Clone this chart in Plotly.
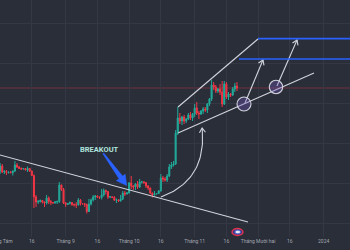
import numpy as np
import pandas as pd
import plotly.graph_objects as go

# ---------------- data ----------------
dates = pd.date_range("2023-07-28", "2023-11-21", freq="D")

open_ = [29400, 29300, 29400, 29300, 29200, 29700, 29100, 29150, 29050, 29080,
         29030, 29200, 29800, 29600, 29450, 29400, 29450, 29300, 29450, 29200,
         28750, 26600, 26100, 26150, 26250, 26100, 26000, 26500, 26150, 26050,
         26000, 26100, 26150, 27800, 27350, 26000, 25850, 25950, 26050, 25850,
         25820, 25800, 26300, 25950, 25920, 25850, 25150, 25900, 26300, 26600,
         26700, 26600, 26550, 26800, 27250, 27150, 26600, 26620, 26550, 26300,
         26320, 26200, 26400, 27000, 26900, 27000, 28000, 27700, 27600, 27900,
         27600, 28100, 28120, 28050, 27700, 27500, 27000, 26800, 26900, 26950,
         27200, 28500, 28400, 28300, 28700, 29600, 29800, 29900, 33000, 34500,
         34200, 34600, 34200, 34400, 34800, 34500, 34900, 35500, 35000, 34900,
         35200, 35400, 35300, 35900, 36400, 37800, 37600, 37200, 37400, 37100,
         35900, 37900, 36600, 36900, 36800, 37400, 37700]
high = [29600, 29500, 29500, 29500, 30000, 29900, 29300, 29300, 29150, 29180,
        29250, 30200, 30000, 29700, 29550, 29500, 29500, 29650, 29500, 29250,
        28850, 26800, 26300, 26350, 26300, 26150, 26800, 26650, 26300, 26100,
        26200, 26250, 28100, 27850, 27500, 26100, 26000, 26150, 26100, 25950,
        26100, 26500, 26400, 26000, 26000, 25950, 26400, 26450, 26800, 26800,
        26750, 26650, 27400, 27450, 27350, 27200, 26700, 26650, 26700, 26450,
        26350, 26800, 27200, 27200, 27100, 28100, 28700, 27800, 28000, 28200,
        28400, 28200, 28150, 28100, 27800, 27550, 27050, 27200, 27000, 27300,
        28900, 28700, 28600, 28900, 29900, 30100, 30200, 33300, 35600, 35000,
        34700, 34800, 34500, 35000, 35100, 35000, 35900, 36100, 35200, 35300,
        35600, 35600, 36000, 36500, 38300, 38100, 37800, 37500, 37900, 38200,
        38200, 38100, 37100, 37000, 37600, 38000, 38100]
low = [29200, 29200, 29100, 29100, 28900, 29000, 28900, 28800, 28950, 28980,
       28750, 29100, 29500, 29400, 29300, 29350, 29250, 29100, 29100, 28700,
       25500, 25600, 25900, 26050, 25950, 25600, 25850, 25900, 25800, 25950,
       25950, 25900, 26000, 27200, 25900, 25600, 25800, 25850, 25700, 25650,
       25500, 25750, 25750, 25850, 25600, 24950, 25100, 25750, 26150, 26300,
       26500, 26400, 26350, 26650, 26850, 26400, 26500, 26500, 26200, 26000,
       26100, 26150, 26300, 26700, 26850, 26950, 27400, 27300, 27300, 27400,
       27500, 27950, 27900, 27500, 27300, 26900, 26550, 26750, 26850, 26900,
       27150, 28100, 28150, 28100, 28600, 29400, 29650, 29800, 32800, 33900,
       33800, 33900, 34000, 34300, 34300, 34200, 34600, 34800, 34400, 34800,
       34900, 35100, 35000, 35700, 36200, 37300, 37000, 37000, 36800, 35600,
       35800, 36400, 36300, 36600, 36700, 37100, 37200]
close = [29300, 29400, 29300, 29200, 29700, 29100, 29150, 29050, 29080, 29030,
         29200, 29800, 29600, 29450, 29400, 29450, 29300, 29450, 29200, 28750,
         26600, 26100, 26150, 26250, 26100, 26000, 26500, 26150, 26050, 26000,
         26100, 26150, 27800, 27350, 26000, 25850, 25950, 26050, 25850, 25820,
         25800, 26300, 25950, 25920, 25850, 25150, 25900, 26300, 26600, 26700,
         26600, 26550, 26800, 27250, 27150, 26600, 26620, 26550, 26300, 26320,
         26200, 26400, 27000, 26900, 27000, 28000, 27700, 27600, 27900, 27600,
         28100, 28120, 28050, 27700, 27500, 27000, 26800, 26900, 26950, 27200,
         28500, 28400, 28300, 28700, 29600, 29800, 29900, 33000, 34500, 34200,
         34600, 34200, 34400, 34800, 34500, 34900, 35500, 35000, 34900, 35200,
         35400, 35300, 35900, 36400, 37800, 37600, 37200, 37400, 37100, 35900,
         37900, 36600, 36900, 36800, 37400, 37700, 37500]

tick_dates = ["2023-08-01", "2023-08-16", "2023-09-01", "2023-09-16", "2023-10-01",
              "2023-10-16", "2023-11-01", "2023-11-16", "2023-12-01", "2023-12-16",
              "2024-01-01"]
tick_text = ["Tháng Tám", "16", "Tháng 9", "16", "Tháng 10", "16", "Tháng 11", "16",
             "Tháng Mười hai", "16", "2024"]

last_price = 37500

# drawings (anchor points as date, price)
trend_line = [("2023-07-26 00:00", 31140), ("2023-11-26 05:00", 24100)]
channel_upper = [("2023-10-24 03:00", 35600), ("2023-11-30 22:30", 42400)]
channel_lower = [("2023-10-24 03:00", 33000), ("2023-12-27 10:00", 39000)]
target_upper = [("2023-11-30 22:30", 42430), ("2024-02-15 00:00", 42430)]
target_lower = [("2023-11-21 23:00", 40400), ("2024-02-15 00:00", 40400)]
retest_circles = [("2023-11-24 07:40", 35900, 7.0), ("2023-12-09 10:50", 37600, 6.7)]
up_arrows = [(("2023-11-24 19:00", 36000), ("2023-12-03 07:00", 40300)),
             (("2023-12-09 21:40", 37700), ("2023-12-19 09:30", 42300))]
curve_arrow = [("2023-10-16 02:00", 26600), ("2023-11-06 21:20", 28300),
               ("2023-11-04 12:30", 33500)]
breakout_arrow = [("2023-09-18 19:00", 30970), ("2023-09-29 20:40", 27750)]
breakout_label = ("2023-09-17 00:00", 31400, "BREAKOUT")
event_marker_date = "2023-11-21 06:00"

# ---------------- geometry ----------------
W, H = 350, 250
MB = 13
PH = H - MB
PX_PER_DAY = 2.115
X0 = pd.Timestamp("2023-07-31 23:00")
X1 = X0 + pd.Timedelta(days=W / PX_PER_DAY)
Y_MIN, Y_MAX = 22600, 46300

BG = "#2a2e39"
GRID = "#343844"
UP = "#22ab9a"
DOWN = "#f23645"
LINE = "#d1d4dc"
BLUE = "#2962ff"


def to_px(d, p):
    x = (pd.Timestamp(d) - X0) / pd.Timedelta(days=1) * PX_PER_DAY
    y = (Y_MAX - p) / (Y_MAX - Y_MIN) * PH
    return np.array([x, y], dtype=float)


def to_data(pt):
    d = X0 + pd.Timedelta(days=float(pt[0]) / PX_PER_DAY)
    p = Y_MAX - float(pt[1]) / PH * (Y_MAX - Y_MIN)
    return d, p


def v_head(tip, frm, L=4.5, hw=3.0):
    u = tip - frm
    u = u / np.hypot(*u)
    n = np.array([-u[1], u[0]])
    return [tip - L * u + hw * n, tip, tip - L * u - hw * n]


fig = go.Figure()

fig.add_trace(go.Candlestick(
    x=dates, open=open_, high=high, low=low, close=close,
    increasing=dict(line=dict(color=UP, width=1), fillcolor=UP),
    decreasing=dict(line=dict(color=DOWN, width=1), fillcolor=DOWN),
    whiskerwidth=0, showlegend=False, hoverinfo="skip"))


def add_poly(pts_px, color=LINE, width=1.0):
    ds, ps = zip(*[to_data(p) for p in pts_px])
    fig.add_trace(go.Scatter(x=list(ds), y=list(ps), mode="lines",
                             line=dict(color=color, width=width),
                             showlegend=False, hoverinfo="skip"))


shapes = []
# price line
shapes.append(dict(type="line", xref="paper", x0=0, x1=1, yref="y", y0=last_price, y1=last_price,
                   line=dict(color="rgba(242,54,69,0.35)", width=1), layer="below"))
for seg, col, w in [(trend_line, LINE, 1.1), (channel_upper, LINE, 1.1), (channel_lower, LINE, 1.1),
                    (target_upper, BLUE, 1.7), (target_lower, BLUE, 1.7)]:
    (xa, ya), (xb, yb) = seg
    shapes.append(dict(type="line", xref="x", yref="y", x0=xa, y0=ya, x1=xb, y1=yb,
                       line=dict(color=col, width=w)))

# arrows from retest circles
for (a, b) in up_arrows:
    pa, pb = to_px(*a), to_px(*b)
    add_poly([pa, pb], LINE, 1.1)
    add_poly(v_head(pb, pa), LINE, 1.1)

for (d, p, r) in retest_circles:
    shapes.append(dict(type="circle", xref="x", yref="y", xsizemode="pixel", ysizemode="pixel",
                       xanchor=d, yanchor=p, x0=-r, x1=r, y0=-r, y1=r,
                       fillcolor="rgba(120,90,200,0.32)", line=dict(color=LINE, width=1.1)))

# curved arrow (quadratic bezier)
P0, P1, P2 = [to_px(*c) for c in curve_arrow]
t = np.linspace(0, 1, 40)[:, None]
curve = (1 - t) ** 2 * P0 + 2 * (1 - t) * t * P1 + t ** 2 * P2
add_poly(list(curve), LINE, 1.1)
add_poly(v_head(P2, curve[-3]), LINE, 1.1)

# breakout arrow (tapered blue marker)
T, P = to_px(*breakout_arrow[0]), to_px(*breakout_arrow[1])
u = (P - T) / np.hypot(*(P - T))
n = np.array([-u[1], u[0]])
N = P - 10 * u
poly = [T + 0.6 * n, N + 2.2 * n, N + 5.5 * n, P, N - 5.5 * n, N - 2.2 * n, T - 0.6 * n, T + 0.6 * n]
ds, ps = zip(*[to_data(q) for q in poly])
fig.add_trace(go.Scatter(x=list(ds), y=list(ps), mode="lines", fill="toself",
                         fillcolor=BLUE, line=dict(color=BLUE, width=0.5),
                         showlegend=False, hoverinfo="skip"))

# event marker on time axis
shapes.append(dict(type="circle", xref="x", yref="paper", xsizemode="pixel", ysizemode="pixel",
                   xanchor=event_marker_date, yanchor=0, x0=-5.5, x1=5.5, y0=1.5, y1=8.5,
                   fillcolor="#4a3a8a", line=dict(color="#e0344c", width=1.4)))
shapes.append(dict(type="circle", xref="x", yref="paper", xsizemode="pixel", ysizemode="pixel",
                   xanchor=event_marker_date, yanchor=0, x0=-2.5, x1=3, y0=3.2, y1=6.8,
                   fillcolor="#e8e8f0", line=dict(color="#4a6ad8", width=0.8)))

fig.update_layout(
    width=W, height=H,
    margin=dict(l=0, r=0, t=0, b=MB, autoexpand=False),
    paper_bgcolor=BG, plot_bgcolor=BG,
    shapes=shapes,
    annotations=[dict(x=breakout_label[0], y=breakout_label[1], text=breakout_label[2],
                      xref="x", yref="y", showarrow=False,
                      font=dict(family="Roboto", size=7.5, color="#aee3dc", weight="bold"))],
    xaxis=dict(type="date", range=[X0, X1], rangeslider=dict(visible=False),
               tickvals=tick_dates, ticktext=tick_text, showgrid=True, gridcolor=GRID,
               gridwidth=1, zeroline=False, showline=False, ticks="",
               ticklabeloverflow="allow", automargin=False,
               tickfont=dict(family="Roboto", size=5, color="#a3a6af")),
    yaxis=dict(range=[Y_MIN, Y_MAX], showticklabels=False, showgrid=True, gridcolor=GRID,
               dtick=4000, zeroline=False, showline=False, automargin=False),
    hovermode=False,
)

fig.write_html("out.html")
